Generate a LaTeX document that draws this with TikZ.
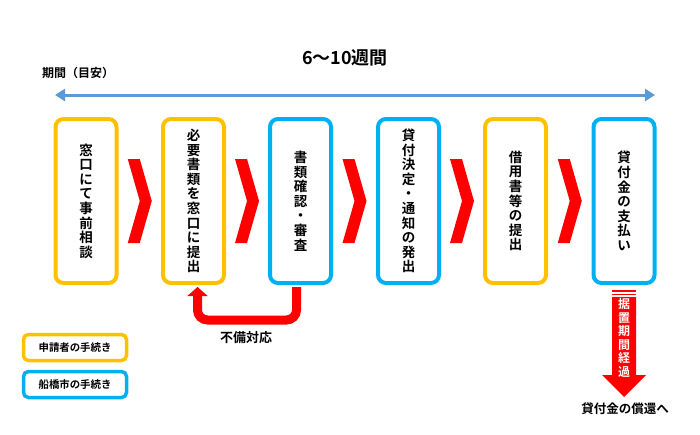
\documentclass[tikz,border=0pt]{standalone}
\usepackage{fontspec}
\setmainfont{Noto Sans CJK JP}[BoldFont={Noto Sans CJK JP Bold}]
\usetikzlibrary{calc,arrows.meta}
\definecolor{apcolor}{HTML}{FFC000}
\definecolor{citycolor}{HTML}{00B0F0}
\definecolor{spancolor}{HTML}{5B9BD5}
\tikzset{apbox/.style={
  draw=apcolor,
  line width=4,
  rounded corners=8,
  fill=white,
  minimum width=61,
  minimum height=164,
  inner sep=0pt,
  align=center,
  font=\bfseries\fontsize{13.5}{14.6}\selectfont}}
\tikzset{citybox/.style={
  apbox,
  draw=citycolor}}
\tikzset{legbox/.style={
  line width=3.5,
  rounded corners=5,
  minimum width=103,
  minimum height=26,
  inner sep=0pt,
  font=\bfseries\fontsize{10.4}{12}\selectfont}}

\begin{document}
\begin{tikzpicture}[x=1pt,y=-1pt,
  fixarrow/.style={
    red,
    line width=9,
    rounded corners=10,
    -{Triangle[length=9,width=20]}}
]
  \useasboundingbox (0,0) rectangle (700,434);

  %% Period arrow and title
  \node[font=\bfseries\fontsize{18}{20}\selectfont] (title) at (345,58) {6〜10週間};
  \node[font=\bfseries\fontsize{12}{14}\selectfont] (period) at (78,73) {期間（目安）};
  \coordinate (spanL) at (55,95);
  \coordinate (spanR) at (655,95);
  \draw[spancolor,line width=3,{Triangle[length=10,width=12]}-{Triangle[length=10,width=12]}] (spanL) -- (spanR);

  %% Steps
  \node[apbox]   (step1) at (86,201)    {窓\\口\\に\\て\\事\\前\\相\\談};
  \node[apbox]   (step2) at (193.5,201) {必\\要\\書\\類\\を\\窓\\口\\に\\提\\出};
  \node[citybox] (step3) at (300.5,201) {書\\類\\確\\認\\・\\審\\査};
  \node[citybox] (step4) at (408.5,201) {貸\\付\\決\\定\\・\\通\\知\\の\\発\\出};
  \node[apbox]   (step5) at (515.5,201) {借\\用\\書\\等\\の\\提\\出};
  \node[citybox] (step6) at (624,201)   {貸\\付\\金\\の\\支\\払\\い};

  %% Chevrons between the steps
  \foreach \a/\b in {step1/step2,step2/step3,step3/step4,step4/step5,step5/step6}{
    \fill[red] ($(\a.east)!.5!(\b.west)$) ++(-12,-42) -- ++(12,0) -- ++(12,42)
      -- ++(-12,42) -- ++(-12,0) -- ++(12,-42) -- cycle;
  }

  %% Return for incomplete papers
  \draw[fixarrow,shorten <=2,shorten >=2] ([xshift=-4]step3.south) -- ++(0,35) -| ([xshift=4]step2.south);
  \node[font=\bfseries\fontsize{13}{15}\selectfont] (fix) at (246,338) {不備対応};

  %% Grace period
  \draw[red,line width=1.2] (612,291) -- (636,291) (612,294.5) -- (636,294.5);
  \fill[red] (612,297) -- (636,297) -- (636,375) -- (646,375) -- (624,397)
    -- (602,375) -- (612,375) -- cycle;
  \node[white,align=center,font=\bfseries\fontsize{12}{13.5}\selectfont] (grace) at (624,338)
    {据\\置\\期\\間\\経\\過};
  \node[font=\bfseries\fontsize{12.5}{14}\selectfont] (repay) at (625,409) {貸付金の償還へ};

  %% Legend
  \node[legbox,draw=apcolor]   (legAp)   at (75,347.5) {申請者の手続き};
  \node[legbox,draw=citycolor] (legCity) at (75,384.5) {船橋市の手続き};

\end{tikzpicture}
\end{document}
